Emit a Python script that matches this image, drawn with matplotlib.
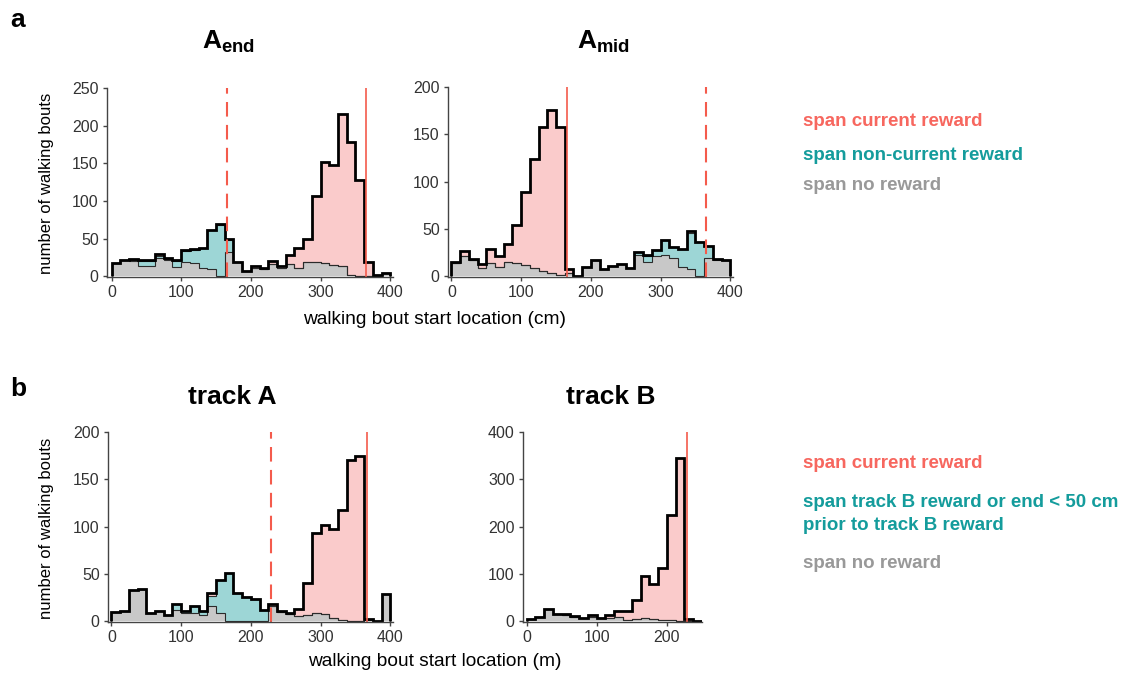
import numpy as np
import matplotlib
matplotlib.use("Agg")
import matplotlib.pyplot as plt

plt.rcParams["font.family"] = ["Liberation Sans", "DejaVu Sans"]
plt.rcParams["mathtext.fontset"] = "custom"
plt.rcParams["mathtext.bf"] = "Liberation Sans:bold"
plt.rcParams["mathtext.rm"] = "Liberation Sans"

# ---------- Data (counts per 12.5 cm bin) ----------
EDGES_A = np.arange(0, 400.1, 12.5)   # tracks A_end / A_mid / track A
EDGES_B = np.arange(0, 250.1, 12.5)   # track B

# A_end
aend_gray = [17, 21, 20, 13, 13, 24, 22, 12, 19, 18, 11, 10, 0, 32, 19, 7,
             11, 10, 16, 11, 16, 11, 19, 19, 17, 15, 13, 2, 0, 0, 0, 4]
aend_teal = [0, 1, 1, 7, 7, 3, 1, 8, 14, 17, 26, 51, 68, 16, 0, 0,
             0, 0, 0, 0, 0, 0, 0, 0, 0, 0, 0, 0, 0, 0, 0, 0]
aend_pink = [0, 0, 2, 2, 1, 3, 1, 2, 2, 1, 1, 1, 1, 2, 0, 0,
             3, 1, 4, 2, 12, 26, 30, 87, 135, 133, 202, 176, 128, 19, 1, 0]

# A_mid
amid_gray = [14, 21, 17, 8, 14, 10, 15, 14, 12, 8, 5, 3.5, 1.5, 3, 0, 10,
             17, 7, 11, 13, 9, 22, 15, 21, 22, 19.5, 9.5, 7, 0, 19.5, 17, 17.5]
amid_teal = [0, 0, 0, 0, 0, 0, 0, 0, 0, 0, 0, 0, 0, 0, 0, 0,
             0, 0, 0, 0, 0, 3.5, 6, 7, 16, 11.5, 19.5, 39, 36.5, 12.5, 0.7, 0]
amid_pink = [1, 5, 1.4, 5, 15, 11, 19, 40, 76.5, 115.5, 152.5, 172.5, 156, 4, 0, 0,
             0, 0, 0, 0, 0, 0, 1, 0, 0, 0, 0, 2, 0, 0, 0, 0]

# track A
ta_gray = [9.5, 11, 33, 34, 8, 10.6, 6.7, 12, 8, 8.5, 6, 16, 8, 0.5, 0, 0,
           0, 0, 16, 9.5, 7.8, 5, 6, 8.5, 7, 3, 1, 0, 0, 1.5, 0, 29]
ta_teal = [0, 0, 0, 0, 0, 0, 0, 5.7, 3, 7.5, 4.6, 11, 35, 50, 30, 25,
           23, 12, 0, 0, 0, 0, 0, 0, 0, 0, 0, 0, 0, 0, 0, 0]
ta_pink = [0, 0, 0, 0, 0, 0, 0, 0, 0, 0, 0, 3, 0, 0, 0, 0,
           0, 0, 2, 1.5, 0.7, 8, 34, 84.5, 95, 94, 116, 170, 175, 1, 0, 0]

# track B
tb_gray = [5, 8, 26, 14, 12, 8.5, 7, 8.5, 7, 7, 8.5, 3, 5, 6, 3.5, 3, 1.4, 0, 0, 0]
tb_teal = [0] * 20
tb_pink = [0, 0.5, 0, 0, 3.6, 1.5, 0, 5, 0, 5, 12.5, 18, 39, 89, 75.5, 110,
           222.6, 346, 5, 1]

# reward locations (cm): current (solid) and other (dashed)
aend_reward = [365, 166]
amid_reward = [166, 365]
ta_reward = [366, 229]
tb_reward = [229]

# ---------- Style ----------
PINK = "#FACBCB"
TEAL = "#9DD6D6"
GRAY = "#C8C8C8"
RED = "#F45B4C"
THIN = "#2b2b2b"
SPINE = "#444444"

TXT_RED = "#F7675F"
TXT_TEAL = "#149C9C"
TXT_GRAY = "#999999"

W, H = 1123, 674
fig = plt.figure(figsize=(W / 100, H / 100), dpi=100)


def px_axes(x0, y0, x1, y1):
    """axes from pixel box (left, top, right, bottom)"""
    return fig.add_axes([x0 / W, 1 - y1 / H, (x1 - x0) / W, (y1 - y0) / H])


def px_text(x, y, s, **kw):
    fig.text(x / W, 1 - y / H, s, **kw)


def hist_panel(ax, edges, gray, teal, pink, rewards, xlim, ylim, yticks, xticks):
    g = np.asarray(gray, float)
    gt = g + np.asarray(teal, float)
    tot = gt + np.asarray(pink, float)
    ax.stairs(tot, edges, fill=True, color=PINK, lw=0)
    ax.stairs(gt, edges, fill=True, color=TEAL, lw=0)
    ax.stairs(g, edges, fill=True, color=GRAY, lw=0)
    ax.stairs(gt, edges, color=THIN, lw=0.8)
    ax.stairs(g, edges, color=THIN, lw=0.8)
    ax.stairs(tot, edges, color="black", lw=2.0)
    for i, r in enumerate(rewards):
        if i == 0:
            ax.axvline(r, color=RED, lw=1.2)
        else:
            ax.axvline(r, color=RED, lw=1.5, ls=(0, (7, 4)))
    ax.set_xlim(*xlim)
    ax.set_ylim(*ylim)
    ax.set_yticks(yticks)
    ax.set_xticks(xticks)
    for s in ["top", "right"]:
        ax.spines[s].set_visible(False)
    for s in ["left", "bottom"]:
        ax.spines[s].set_color(SPINE)
        ax.spines[s].set_linewidth(1.0)
    ax.tick_params(direction="out", length=3, width=1.0, color=SPINE,
                   labelsize=11.5, labelcolor="#333333", pad=3)


ax1 = px_axes(107, 88, 393, 277)
hist_panel(ax1, EDGES_A, aend_gray, aend_teal, aend_pink, aend_reward,
           (-6.5, 404), (-1, 250), [0, 50, 100, 150, 200, 250], [0, 100, 200, 300, 400])

ax2 = px_axes(448, 87, 733, 277)
hist_panel(ax2, EDGES_A, amid_gray, amid_teal, amid_pink, amid_reward,
           (-5, 404), (-1, 200), [0, 50, 100, 150, 200], [0, 100, 200, 300, 400])

ax3 = px_axes(108, 432, 393, 622)
hist_panel(ax3, EDGES_A, ta_gray, ta_teal, ta_pink, ta_reward,
           (-5, 404), (-1, 200), [0, 50, 100, 150, 200], [0, 100, 200, 300, 400])

ax4 = px_axes(523, 432, 702, 622)
hist_panel(ax4, EDGES_B, tb_gray, tb_teal, tb_pink, tb_reward,
           (-5, 250), (-2, 400), [0, 100, 200, 300, 400], [0, 100, 200])

# ---------- Titles ----------
TITLE = dict(fontsize=19, fontweight="bold", ha="center", va="center")
px_text(228, 42, r"$\mathbf{A_{end}}$", **TITLE)
px_text(603, 42, r"$\mathbf{A_{mid}}$", **TITLE)
px_text(232, 397, "track A", **TITLE)
px_text(611, 397, "track B", **TITLE)

# ---------- Labels ----------
px_text(10, 20, "a", fontsize=19, fontweight="bold", ha="left", va="center")
px_text(10, 389, "b", fontsize=19, fontweight="bold", ha="left", va="center")

px_text(47, 183, "number of walking bouts", rotation=90,
        ha="center", va="center", fontsize=12)
px_text(47, 528, "number of walking bouts", rotation=90,
        ha="center", va="center", fontsize=12)
px_text(435, 319, "walking bout start location (cm)",
        ha="center", va="center", fontsize=13.8)
px_text(435, 662, "walking bout start location (m)",
        ha="center", va="center", fontsize=13.8)

# ---------- Legends (coloured text) ----------
legend_a = [("span current reward", TXT_RED, 122),
            ("span non-current reward", TXT_TEAL, 155),
            ("span no reward", TXT_GRAY, 186)]
legend_b = [("span current reward", TXT_RED, 463),
            ("span track B reward or end < 50 cm\nprior to track B reward", TXT_TEAL, 514),
            ("span no reward", TXT_GRAY, 564)]
for label, c, y in legend_a + legend_b:
    px_text(803, y, label, color=c, fontsize=13.5, fontweight="bold",
            ha="left", va="center", linespacing=1.4)

fig.savefig("out.png", dpi=100)
